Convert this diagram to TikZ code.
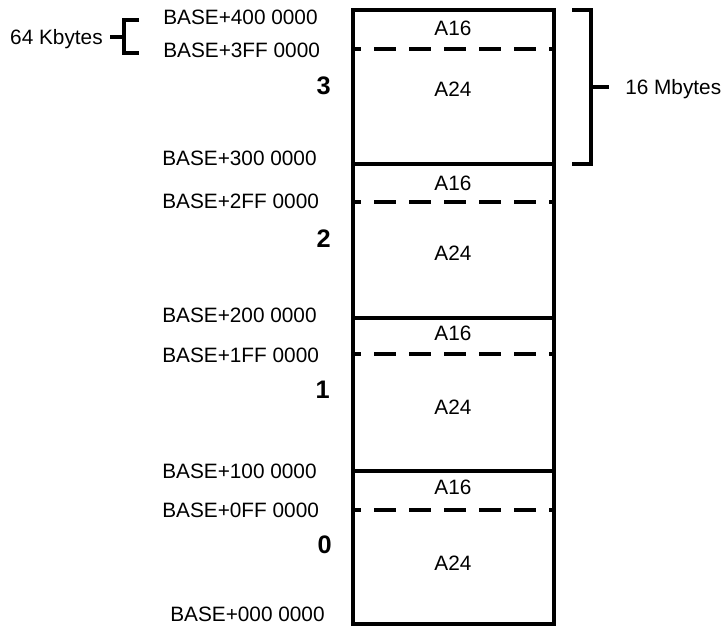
\documentclass[tikz,border=0pt]{standalone}
\usepackage{fontspec}
\setmainfont{Liberation Sans}
\begin{document}
\begin{tikzpicture}[x=0.75pt,y=-0.75pt,
  heavy/.style={line width=2.4pt},
  sepdash/.style={line width=2.4pt,dash pattern=on 16.5pt off 9.75pt,dash phase=10.5pt},
  lbl/.style={inner sep=0pt,yshift=-2.25pt,font=\fontsize{15.6}{18}\selectfont,text height=0.72em,text depth=0pt},
  num/.style={inner sep=0pt,yshift=-2.25pt,font=\fontsize{19}{21}\selectfont\bfseries,text height=0.72em,text depth=0pt,anchor=east}]
\useasboundingbox (0,0) rectangle (725,628);
% memory box
\coordinate (tl) at (353,10);
\coordinate (br) at (554,624);
\draw[heavy] (tl) rectangle (br);
\foreach \y/\n in {164/s2,318/s1,471/s0}{
  \coordinate (\n l) at (353,\y);
  \coordinate (\n r) at (554,\y);
  \draw[heavy] (\n l) -- (\n r);
}
\foreach \y/\n in {49/d3,202/d2,354/d1,510/d0}{
  \coordinate (\n l) at (353,\y);
  \coordinate (\n r) at (554,\y);
  \draw[sepdash] (\n l) -- (\n r);
}
% section labels
\node[lbl] (a16c) at (453,28) {A16};
\node[lbl] (a24c) at (453,89) {A24};
\node[lbl] (a16b) at (453,183) {A16};
\node[lbl] (a24b) at (453,253) {A24};
\node[lbl] (a16a) at (453,333) {A16};
\node[lbl] (a24a) at (453,407) {A24};
\node[lbl] (a16z) at (453,487) {A16};
\node[lbl] (a24z) at (453,563) {A24};
% addresses
\node[lbl,anchor=west] (b400) at (163,17) {BASE+400 0000};
\node[lbl,anchor=west] (b3ff) at (163,50) {BASE+3FF 0000};
\node[lbl,anchor=west] (b300) at (162,158) {BASE+300 0000};
\node[lbl,anchor=west] (b2ff) at (162,201) {BASE+2FF 0000};
\node[lbl,anchor=west] (b200) at (162,315) {BASE+200 0000};
\node[lbl,anchor=west] (b1ff) at (162,355) {BASE+1FF 0000};
\node[lbl,anchor=west] (b100) at (162,471) {BASE+100 0000};
\node[lbl,anchor=west] (b0ff) at (162,510) {BASE+0FF 0000};
\node[lbl,anchor=west] (b000) at (170,614) {BASE+000 0000};
% section numbers
\node[num] (n3) at (331,87) {3};
\node[num] (n2) at (331,240) {2};
\node[num] (n1) at (330,391) {1};
\node[num] (n0) at (332,546) {0};
% 64 Kbytes bracket
\coordinate (kt) at (124,20);
\coordinate (kb) at (124,53);
\coordinate (km) at (124,37);
\coordinate (kt2) at (139,20);
\coordinate (kb2) at (139,53);
\coordinate (kk) at (110,37);
\draw[heavy] (kt2) -- (kt) -- (kb) -- (kb2);
\draw[heavy] (km) -- (kk);
\node[lbl,anchor=east] (k64) at (103,37) {64 Kbytes};
% 16 Mbytes bracket
\coordinate (mt) at (591,10);
\coordinate (mb) at (591,164);
\coordinate (mm) at (591,87);
\coordinate (mt2) at (572,10);
\coordinate (mb2) at (572,164);
\coordinate (mk) at (609,87);
\draw[heavy] (mt2) -- (mt) -- (mb) -- (mb2);
\draw[heavy] (mm) -- (mk);
\node[lbl,anchor=west] (m16) at (625,87) {16 Mbytes};
\end{tikzpicture}
\end{document}
